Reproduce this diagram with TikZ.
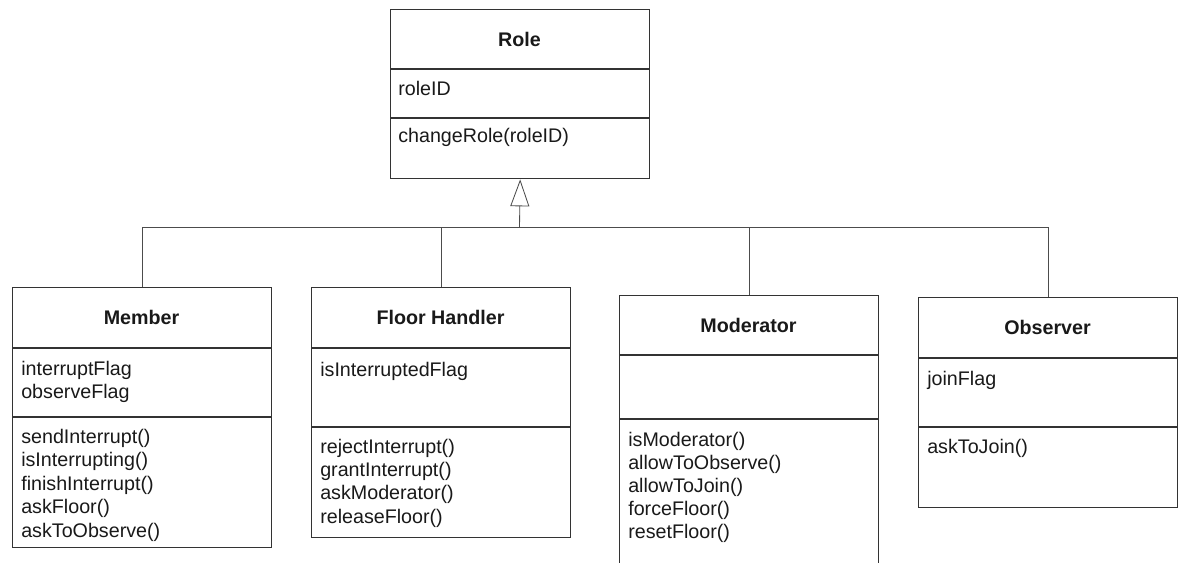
\documentclass[tikz,border=0pt]{standalone}
\usepackage{fontspec}
\setmainfont{Liberation Sans}
\usetikzlibrary{arrows.meta}

\tikzset{
  umlbox/.style={draw=black!80, line width=0.9pt, inner sep=0pt, anchor=north west,
    minimum width=6.475cm},
  umltitle/.style={font=\fontsize{14}{17}\selectfont\bfseries, text=black!90, inner sep=0pt},
  umlline/.style={font=\fontsize{14}{17}\selectfont, text=black!90, anchor=base west, inner sep=0pt},
  divider/.style={draw=black!80, line width=0.9pt},
  inherit/.style={draw=black!70, line width=0.6pt},
}

\begin{document}
\begin{tikzpicture}[x=0.025cm, y=-0.025cm]
  \useasboundingbox (0,0) rectangle (1181,563);

  % --- Superclass: Role ---
  \node[umlbox, minimum height=4.225cm] (role) at (390,9) {};
  \draw[divider] (390,69) -- (649,69);
  \draw[divider] (390,118) -- (649,118);
  \node[umltitle] (role-t) at (519.5,39) {Role};
  \node[umlline] (role-a1) at (398,96) {roleID};
  \node[umlline] (role-o1) at (398,143) {changeRole(roleID)};

  % --- Member ---
  \node[umlbox, minimum height=6.5cm] (member) at (12,287) {};
  \draw[divider] (12,348) -- (271,348);
  \draw[divider] (12,417) -- (271,417);
  \node[umltitle] (member-t) at (141.5,317.5) {Member};
  \foreach \t [count=\i] in {interruptFlag, observeFlag}
    \node[umlline] (member-a\i) at (21,375+23.5*\i-23.5) {\t};
  \foreach \t [count=\i] in {sendInterrupt(), isInterrupting(), finishInterrupt(),
      askFloor(), askToObserve()}
    \node[umlline] (member-o\i) at (21,443+23.6*\i-23.6) {\t};

  % --- Floor Handler ---
  \node[umlbox, minimum height=6.25cm] (handler) at (311,287) {};
  \draw[divider] (311,348) -- (570,348);
  \draw[divider] (311,427) -- (570,427);
  \node[umltitle] (handler-t) at (440.5,317.5) {Floor Handler};
  \node[umlline] (handler-a1) at (320,376) {isInterruptedFlag};
  \foreach \t [count=\i] in {rejectInterrupt(), grantInterrupt(), askModerator(),
      releaseFloor()}
    \node[umlline] (handler-o\i) at (320,453+23.4*\i-23.4) {\t};

  % --- Moderator (runs off the bottom) ---
  \node[umlbox, minimum height=7cm] (moderator) at (619,295) {};
  \draw[divider] (619,355) -- (878,355);
  \draw[divider] (619,419) -- (878,419);
  \node[umltitle] (moderator-t) at (748.5,325) {Moderator};
  \foreach \t [count=\i] in {isModerator(), allowToObserve(), allowToJoin(),
      forceFloor(), resetFloor()}
    \node[umlline] (moderator-o\i) at (628,446.5+23*\i-23) {\t};

  % --- Observer ---
  \node[umlbox, minimum height=5.25cm] (observer) at (918,297) {};
  \draw[divider] (918,358) -- (1177,358);
  \draw[divider] (918,427) -- (1177,427);
  \node[umltitle] (observer-t) at (1047.5,327.5) {Observer};
  \node[umlline] (observer-a1) at (927,385) {joinFlag};
  \node[umlline] (observer-o1) at (927,453) {askToJoin()};

  % --- Generalisation ---
  \coordinate (bus) at (519.5,227);
  \draw[inherit] (member.north) |- (observer.north |- bus) -- (observer.north);
  \draw[inherit] (handler.north) -- (handler.north |- bus);
  \draw[inherit] (moderator.north) -- (moderator.north |- bus);
  \draw[inherit, -{Triangle[open, length=0.675cm, width=0.475cm]}] (bus) -- (role.south);
\end{tikzpicture}
\end{document}
